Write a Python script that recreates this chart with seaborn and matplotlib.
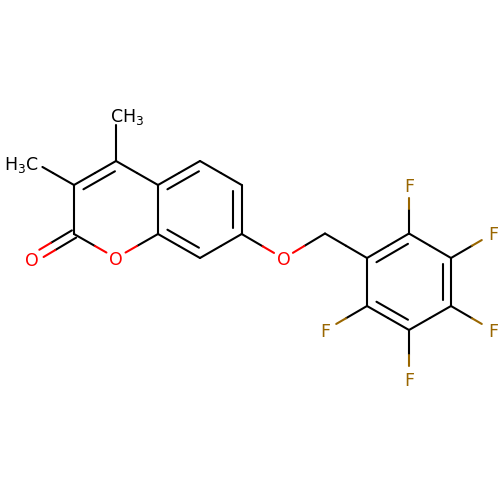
import numpy as np
import pandas as pd
import matplotlib
matplotlib.use("Agg")
import matplotlib.pyplot as plt
import seaborn as sns

# atom positions, in pixels
atom_names = ["C4", "C3", "C2", "O1", "C8a", "C4a", "C5", "C6", "C7", "C8", "Me4", "Me3", "O2",
              "O7", "CH2", "C1p", "C2p", "C3p", "C4p", "C5p", "C6p", "F2", "F3", "F4", "F5", "F6"]
atom_x = [116, 74, 74, 116, 158, 158, 200, 241.7, 241.7, 200, 116, 32, 32,
          283.5, 325, 367, 409, 451, 451, 409, 367, 409, 493, 493, 409, 325]
atom_y = [161, 185, 234, 258, 234, 185, 161, 185, 234, 258, 113, 161, 259,
          258.5, 233.5, 258, 233.5, 258, 306, 330, 306, 185, 233.5, 330.5, 379, 330.5]

single_bonds = [("C3", "C4"), ("C3", "C2"), ("C2", "O1"), ("O1", "C8a"), ("C8a", "C4a"), ("C4a", "C4"),
                ("C4a", "C5"), ("C6", "C5"), ("C7", "C8"), ("C4", "Me4"), ("C3", "Me3"),
                ("C7", "O7"), ("O7", "CH2"), ("CH2", "C1p"), ("C1p", "C2p"), ("C2p", "C3p"),
                ("C3p", "C4p"), ("C4p", "C5p"), ("C5p", "C6p"), ("C6p", "C1p"),
                ("C2p", "F2"), ("C3p", "F3"), ("C4p", "F4"), ("C5p", "F5"), ("C6p", "F6"),
                ("C6", "C7"), ("C8", "C8a")]
# inner second line of a ring double bond: the two atoms and the ring it sits in
inner_bonds = [("C3", "C4", "pyr"), ("C4a", "C5", "ben"), ("C6", "C7", "ben"), ("C8", "C8a", "ben"),
               ("C1p", "C2p", "pfb"), ("C3p", "C4p", "pfb"), ("C5p", "C6p", "pfb")]
rings = {"pyr": ["C4", "C3", "C2", "O1", "C8a", "C4a"],
         "ben": ["C4a", "C5", "C6", "C7", "C8", "C8a"],
         "pfb": ["C1p", "C2p", "C3p", "C4p", "C5p", "C6p"]}
carbonyl = ("C2", "O2")

labels = {"Me4": "CH$_3$", "Me3": "H$_3$C", "O1": "O", "O2": "O", "O7": "O",
          "F2": "F", "F3": "F", "F4": "F", "F5": "F", "F6": "F"}
gaps = {"Me4": 12, "Me3": 12, "O1": 11, "O2": 11, "O7": 11,
        "F2": 13, "F3": 13, "F4": 13, "F5": 13, "F6": 13}
colors = {"O": "#FF0000", "F": "#996600"}

pos = {n: np.array([x, y], dtype=float) for n, x, y in zip(atom_names, atom_x, atom_y)}


def atom_color(name):
    return colors.get(name[0], "#000000")


rows = []


def add_line(p, q, color):
    seg = len(rows)
    rows.append({"seg": seg, "x": p[0], "y": p[1], "color": color})
    rows.append({"seg": seg, "x": q[0], "y": q[1], "color": color})


def add_bond(a, b, shift=(0, 0)):
    # one bond is two half lines, each half in the colour of its atom
    pa, pb = pos[a] + shift, pos[b] + shift
    d = (pb - pa) / np.linalg.norm(pb - pa)
    mid = (pa + pb) / 2
    add_line(pa + d * gaps.get(a, 0), mid, atom_color(a))
    add_line(mid, pb - d * gaps.get(b, 0), atom_color(b))


for a, b in single_bonds:
    add_bond(a, b)

pa, pb = pos[carbonyl[0]], pos[carbonyl[1]]
n = np.array([-(pb - pa)[1], (pb - pa)[0]]) / np.linalg.norm(pb - pa)
add_bond(*carbonyl, shift=n * 4.2)
add_bond(*carbonyl, shift=-n * 4.2)

for a, b, ring in inner_bonds:
    centre = np.mean([pos[r] for r in rings[ring]], axis=0)
    pa, pb = pos[a], pos[b]
    m = (pa + pb) / 2
    inward = (centre - m) / np.linalg.norm(centre - m)
    add_line(pa + (pb - pa) * 0.125 + inward * 8.4, pb - (pb - pa) * 0.125 + inward * 8.4, "#000000")

df = pd.DataFrame(rows)

sns.set_theme(style="white")
plt.rcParams["font.family"] = ["DejaVu Sans"]
fig = plt.figure(figsize=(5, 5), dpi=100)
ax = fig.add_axes([0, 0, 1, 1])
sns.lineplot(data=df, x="x", y="y", units="seg", hue="color", estimator=None, sort=False,
             palette={c: c for c in df["color"].unique()}, legend=False, linewidth=1.5,
             solid_capstyle="round", ax=ax)
for name, text in labels.items():
    x, y = pos[name]
    ha = "center"
    if name == "Me4":
        # the C of the methyl sits over its bond
        x, y, ha = 109.5, 115.5, "left"
    elif name == "Me3":
        x, y, ha = 39, 163, "right"
    ax.text(x, y + 6.6, text, color=atom_color(name), fontsize=12.5, ha=ha, va="baseline")
ax.set_xlim(0, 500)
ax.set_ylim(500, 0)
ax.axis("off")
fig.savefig("out.png", dpi=100)
